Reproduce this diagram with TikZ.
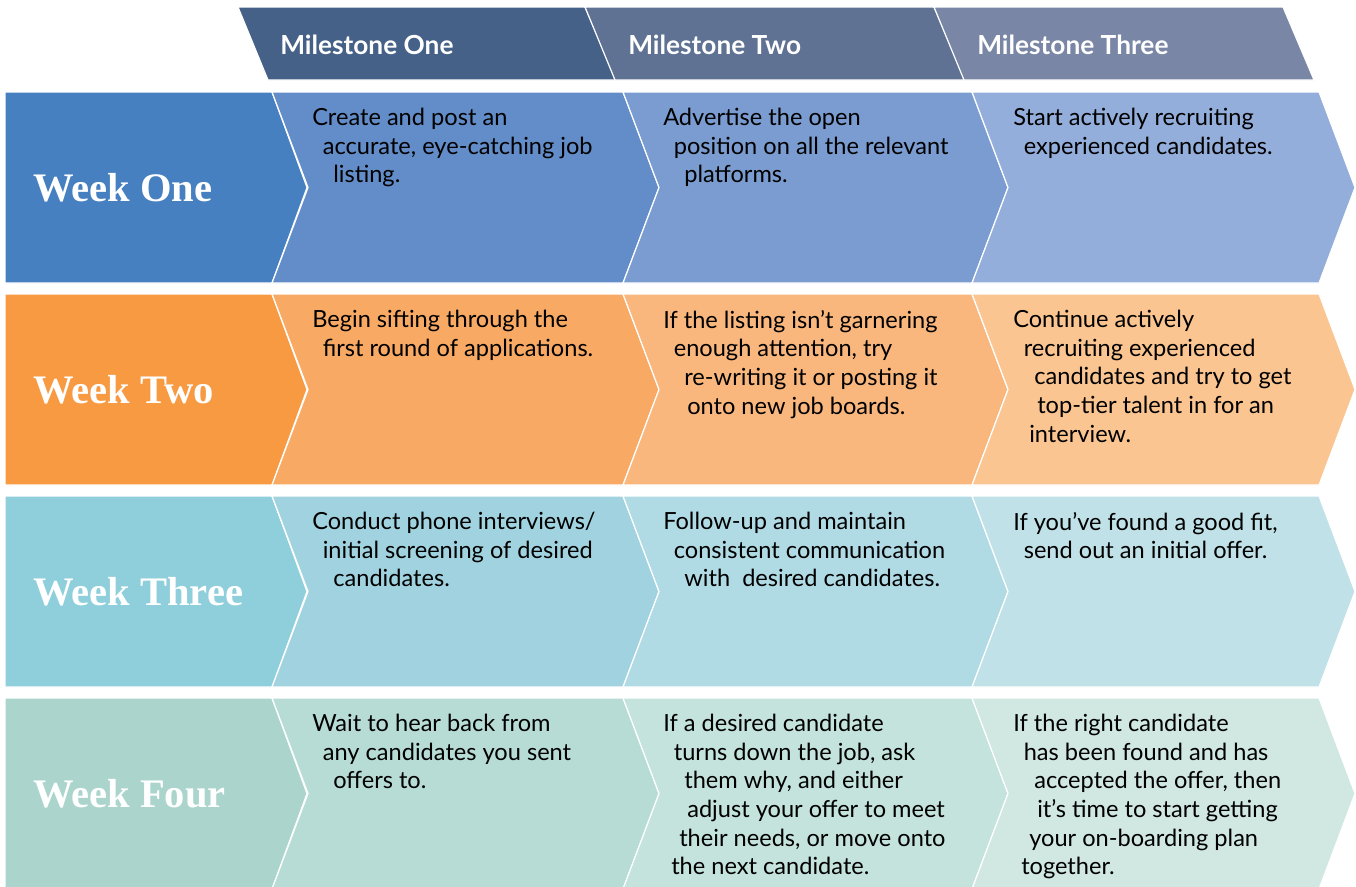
\documentclass[tikz,border=0pt]{standalone}
\usepackage{fontspec}
\setmainfont{Lato}
\newfontfamily\weekfont{Liberation Serif}
\usetikzlibrary{positioning}

% milestone header colours
\definecolor{ms1}{HTML}{456187}
\definecolor{ms2}{HTML}{5F7293}
\definecolor{ms3}{HTML}{7986A5}
% week rows: label, then the three milestone cells
\definecolor{wk1}{HTML}{4680C0}
\definecolor{wk11}{HTML}{638DC8}
\definecolor{wk12}{HTML}{7A9CD0}
\definecolor{wk13}{HTML}{94AEDB}
\definecolor{wk2}{HTML}{F79A42}
\definecolor{wk21}{HTML}{F8A964}
\definecolor{wk22}{HTML}{F9B77E}
\definecolor{wk23}{HTML}{FAC590}
\definecolor{wk3}{HTML}{8FCEDB}
\definecolor{wk31}{HTML}{A0D3DF}
\definecolor{wk32}{HTML}{B0DAE4}
\definecolor{wk33}{HTML}{C0E1E7}
\definecolor{wk4}{HTML}{ABD5CC}
\definecolor{wk41}{HTML}{B7DCD5}
\definecolor{wk42}{HTML}{C4E3DD}
\definecolor{wk43}{HTML}{D0E7E2}

\newcommand{\ind}[1]{\hspace*{#1pt}}

\begin{document}
\begin{tikzpicture}[
  x=0.75pt,y=-0.75pt,
  cell/.style={draw=white,line width=0.9pt},
  week/.style={anchor=west,inner sep=0pt,text=white,
    font=\weekfont\bfseries\fontsize{30.4}{36}\selectfont},
  mile/.style={anchor=west,inner sep=0pt,text=white,
    font=\bfseries\fontsize{19.7}{24}\selectfont},
  body/.style={anchor=north west,align=left,inner sep=0pt,
    font=\fontsize{17.7}{21.5}\selectfont,execute at begin node=\strut},
]
\useasboundingbox (0,0) rectangle (1356,886);
\clip (0,0) rectangle (1356,886);

% header bands
\foreach \i/\a/\b in {1/238/585,2/585/934,3/934/1283} {
  \draw[cell,fill=ms\i] (\a,7) -- (\b,7) -- (\b+31,80) -- (\a+30,80) -- cycle;
}
\node[mile] (m1) at (280,45) {Milestone One};
\node[mile] (m2) at (628,45) {Milestone Two};
\node[mile] (m3) at (977,45) {Milestone Three};

% rows of chevrons
\foreach \r/\t in {1/92,2/294,3/496,4/698} {
  \draw[cell,fill=wk\r] (5,\t) -- (272,\t) -- (307,\t+95.5) -- (272,\t+191)
    -- (5,\t+191) -- cycle;
  \foreach \c/\l/\rr in {1/272/623,2/623/972,3/972/1319} {
    \draw[cell,fill=wk\r\c] (\l,\t) -- (\rr,\t) -- (\rr+36,\t+95.5)
      -- (\rr,\t+191) -- (\l,\t+191) -- (\l+36,\t+95.5) -- cycle;
  }
}

\node[week] (w1) at (33,188) {Week One};
\node[week] (w2) at (33,390) {Week Two};
\node[week] (w3) at (33,592) {Week Three};
\node[week] (w4) at (33,794) {Week Four};

% week one
\node[body] (t11) at (312,108) {Create and post an\\
  \ind{7.9}accurate, eye-catching job\\ \ind{15.8}listing.};
\node[body] (t12) at (663,108) {Advertise the open\\
  \ind{7.9}position on all the relevant\\ \ind{15.8}platforms.};
\node[body] (t13) at (1013,108) {Start actively recruiting\\
  \ind{7.9}experienced candidates.};

% week two
\node[body] (t21) at (312,310) {Begin sifting through the\\
  \ind{7.9}first round of applications.};
\node[body] (t22) at (663,310) {If the listing isn't garnering\\
  \ind{7.9}enough attention, try\\ \ind{15.8}re-writing it or posting it\\
  \ind{18}onto new job boards.};
\node[body] (t23) at (1013,310) {Continue actively\\
  \ind{7.9}recruiting experienced\\ \ind{15.8}candidates and try to get\\
  \ind{18}top-tier talent in for an\\ \ind{12}interview.};

% week three
\node[body] (t31) at (312,512) {Conduct phone interviews/\\
  \ind{7.9}initial screening of desired\\ \ind{15.8}candidates.};
\node[body] (t32) at (663,512) {Follow-up and maintain\\
  \ind{7.9}consistent communication\\ \ind{15.8}with~ desired candidates.};
\node[body] (t33) at (1013,512) {If you've found a good fit,\\
  \ind{7.9}send out an initial offer.};

% week four
\node[body] (t41) at (312,714) {Wait to hear back from\\
  \ind{7.9}any candidates you sent\\ \ind{15.8}offers to.};
\node[body] (t42) at (663,714) {If a desired candidate\\
  \ind{7.9}turns down the job, ask\\ \ind{15.8}them why, and either\\
  \ind{18}adjust your offer to meet\\ \ind{12}their needs, or move onto\\
  \ind{6}the next candidate.};
\node[body] (t43) at (1013,714) {If the right candidate\\
  \ind{7.9}has been found and has\\ \ind{15.8}accepted the offer, then\\
  \ind{18}it's time to start getting\\ \ind{12}your on-boarding plan\\
  \ind{6}together.};

\end{tikzpicture}
\end{document}
